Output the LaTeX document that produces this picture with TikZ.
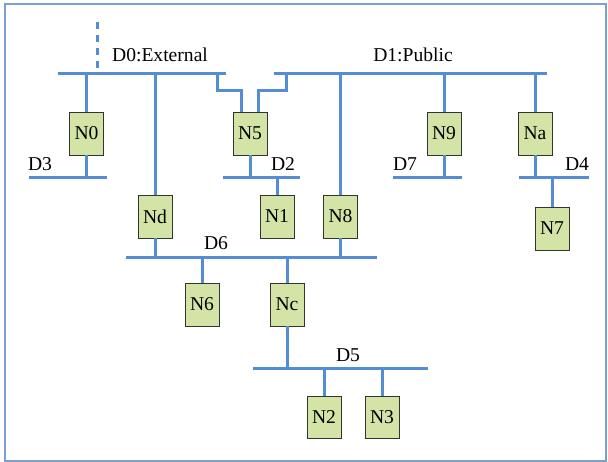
\documentclass[tikz,border=0pt]{standalone}
\usepackage{fontspec}
\setmainfont{Liberation Serif}
\definecolor{busblue}{RGB}{84,141,212}
\definecolor{boxgreen}{RGB}{212,228,166}
\definecolor{framecol}{RGB}{120,160,210}
\begin{document}
\begin{tikzpicture}[x=1pt,y=-1pt,
  host/.style={draw=black!80,line width=0.9pt,fill=boxgreen,minimum width=34pt,minimum height=43pt,inner sep=0pt,font=\fontsize{19.6}{20}\selectfont},
  bus/.style={draw=busblue,line width=3pt},
  stem/.style={draw=busblue,line width=3pt},
  lbl/.style={anchor=base,inner sep=0pt,font=\fontsize{19.6}{20}\selectfont}]
\useasboundingbox (0,0) rectangle (608,462);
\draw[framecol,line width=1.3pt] (5,4) rectangle (606,461);
% bus end coordinates
\coordinate (d0a) at (58,74);  \coordinate (d0b) at (226,74);
\coordinate (d1a) at (274,74); \coordinate (d1b) at (547,74);
\coordinate (d3a) at (29,178); \coordinate (d3b) at (107,178);
\coordinate (d2a) at (223,178); \coordinate (d2b) at (300,178);
\coordinate (d7a) at (393,178); \coordinate (d7b) at (462,178);
\coordinate (d4a) at (519,178); \coordinate (d4b) at (589,178);
\coordinate (d6a) at (126,258); \coordinate (d6b) at (377,258);
\coordinate (d5a) at (253,369); \coordinate (d5b) at (428,369);
\coordinate (ext) at (97,22);
\coordinate (n5l) at (217,74);
\coordinate (n5r) at (286,74);
% buses
\foreach \a/\b in {d0a/d0b,d1a/d1b,d3a/d3b,d2a/d2b,d7a/d7b,d4a/d4b,d6a/d6b,d5a/d5b}
  \draw[bus] (\a) -- (\b);
\draw[busblue,line width=3pt,dash pattern=on 7pt off 6pt] (ext) -- (ext |- d0a);
% labels
\node[lbl] (l0) at (160,61.5) {D0:External};
\node[lbl] (l1) at (413,61.5) {D1:Public};
\node[lbl] (l3) at (40,171) {D3};
\node[lbl] (l2) at (283,171) {D2};
\node[lbl] (l7) at (405,171) {D7};
\node[lbl] (l4) at (577,171) {D4};
\node[lbl] (l6) at (216,250) {D6};
\node[lbl] (l5) at (348,362) {D5};
% hosts
\node[host] (N0) at (86.5,133.5) {N0};
\node[host] (N5) at (250,133.5) {N5};
\node[host] (N9) at (444,133.5) {N9};
\node[host] (Na) at (535,133.5) {Na};
\node[host] (Nd) at (155,216.5) {Nd};
\node[host] (N1) at (277,216.5) {N1};
\node[host] (N8) at (340.5,216.5) {N8};
\node[host] (N7) at (552,228.5) {N7};
\node[host] (N6) at (202,304.5) {N6};
\node[host] (Nc) at (287,304.5) {Nc};
\node[host,minimum height=42pt] (N2) at (324,417) {N2};
\node[host,minimum height=42pt] (N3) at (382,417) {N3};
% stems
\draw[stem] (N0.north) -- (N0.north |- d0a);
\draw[stem] (N0.south) -- (N0.south |- d3a);
\draw[stem] (Nd.north) -- (Nd.north |- d0a);
\draw[stem] (Nd.south) -- (Nd.south |- d6a);
\draw[stem] (n5l) -- ++(0,17) -| ([xshift=-9pt]N5.north);
\draw[stem] (n5r) -- ++(0,17) -| ([xshift=8pt]N5.north);
\draw[stem] (N5.south) -- (N5.south |- d2a);
\draw[stem] (N1.north) -- (N1.north |- d2a);
\draw[stem] (N8.north) -- (N8.north |- d1a);
\draw[stem] (N8.south) -- (N8.south |- d6a);
\draw[stem] (N9.north) -- (N9.north |- d1a);
\draw[stem] (N9.south) -- (N9.south |- d7a);
\draw[stem] (Na.north) -- (Na.north |- d1a);
\draw[stem] (Na.south) -- (Na.south |- d4a);
\draw[stem] (N7.north) -- (N7.north |- d4a);
\draw[stem] (N6.north) -- (N6.north |- d6a);
\draw[stem] (Nc.north) -- (Nc.north |- d6a);
\draw[stem] (Nc.south) -- (Nc.south |- d5a);
\draw[stem] (N2.north) -- (N2.north |- d5a);
\draw[stem] (N3.north) -- (N3.north |- d5a);
\end{tikzpicture}
\end{document}
